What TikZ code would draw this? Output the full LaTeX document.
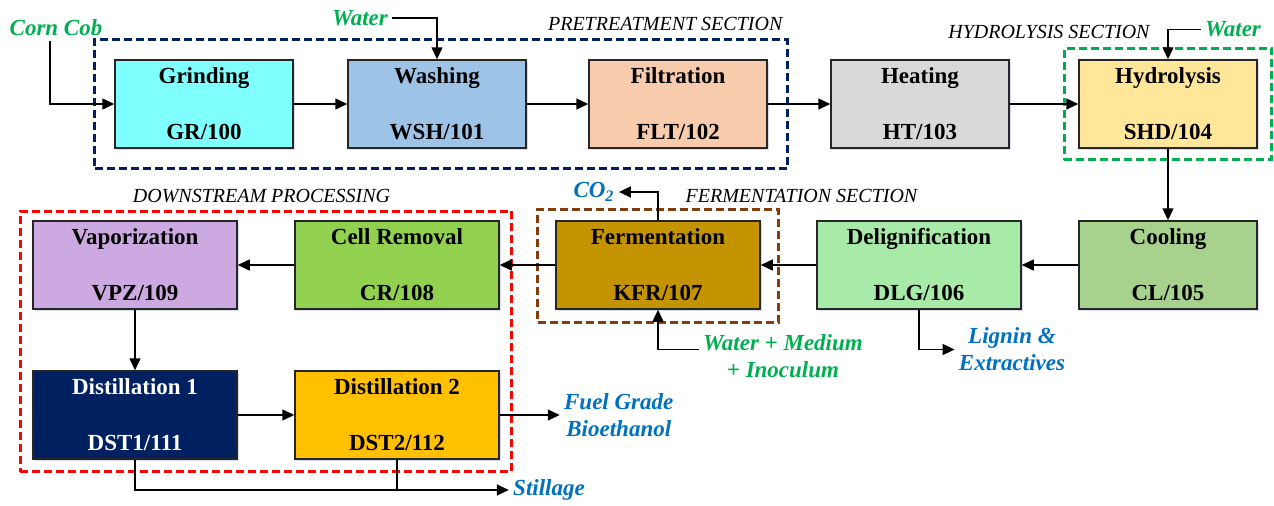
\documentclass[tikz,border=0pt]{standalone}
\usepackage{fontspec}
\setmainfont{Liberation Serif}
\usetikzlibrary{
  positioning,
  arrows.meta,
  fit,
  shadows,
  backgrounds
}

\definecolor{grindCyan}{HTML}{80FFFF}
\definecolor{washBlue}{HTML}{9DC3E6}
\definecolor{filtPeach}{HTML}{F8CBAD}
\definecolor{heatGray}{HTML}{D9D9D9}
\definecolor{hydYellow}{HTML}{FFE699}
\definecolor{coolGreen}{HTML}{A9D18E}
\definecolor{delignGreen}{HTML}{A8EBA8}
\definecolor{fermGold}{HTML}{C39300}
\definecolor{cellGreen}{HTML}{92D050}
\definecolor{vapLilac}{HTML}{CDA9E2}
\definecolor{distNavy}{HTML}{002060}
\definecolor{distAmber}{HTML}{FFC000}
\definecolor{fermBrown}{HTML}{843C0C}
\definecolor{feedGreen}{HTML}{00B050}
\definecolor{productBlue}{HTML}{0070C0}

\begin{document}
\begin{tikzpicture}[
    x=0.5pt,y=-0.5pt,
    unitBox/.style={draw=black!85,line width=0.75pt,minimum width=102pt,minimum height=44pt,
      inner sep=0pt,align=center,font=\fontsize{11.5}{28}\selectfont\bfseries,
      drop shadow={shadow xshift=0.8pt,shadow yshift=-0.8pt,opacity=0.2,fill=blue!40!gray}},
    narrowBox/.style={unitBox,minimum width=89pt},
    flow/.style={-{Triangle[length=6pt,width=5.5pt]},line width=0.75pt},
    sectionBox/.style={draw,line width=1.5pt,dash pattern=on 4pt off 2pt},
    sectionLabel/.style={font=\fontsize{10}{12}\selectfont\itshape,inner sep=0pt},
    feedLabel/.style={font=\fontsize{11.5}{13.5}\selectfont\bfseries\itshape,text=feedGreen,
      align=center,inner sep=2pt},
    productLabel/.style={feedLabel,text=productBlue}
  ]
    \useasboundingbox (0,0) rectangle (1274,505);

    % pretreatment, heating and hydrolysis
    \node[narrowBox,fill=grindCyan] (grinding) at (204,104) {Grinding\\GR/100};
    \node[narrowBox,fill=washBlue,right=26.75pt of grinding] (washing) {Washing\\WSH/101};
    \node[narrowBox,fill=filtPeach,right=30.75pt of washing] (filtration) {Filtration\\FLT/102};
    \node[narrowBox,fill=heatGray,right=31.25pt of filtration] (heating) {Heating\\HT/103};
    \node[narrowBox,fill=hydYellow,right=34.25pt of heating] (hydrolysis) {Hydrolysis\\SHD/104};

    % cooling back to downstream
    \node[narrowBox,fill=coolGreen,below=35.75pt of hydrolysis] (cooling) {Cooling\\CL/105};
    \node[unitBox,fill=delignGreen,left=28.25pt of cooling] (delignification) {Delignification\\DLG/106};
    \node[unitBox,fill=fermGold,left=27.75pt of delignification] (fermentation) {Fermentation\\KFR/107};
    \node[unitBox,fill=cellGreen,left=27.75pt of fermentation] (cellRemoval) {Cell Removal\\CR/108};
    \node[unitBox,fill=vapLilac,left=28.25pt of cellRemoval] (vaporization) {Vaporization\\VPZ/109};
    \node[unitBox,fill=distNavy,text=white,below=30.25pt of vaporization] (distillationA) {Distillation 1\\DST1/111};
    \node[unitBox,fill=distAmber,right=28.25pt of distillationA] (distillationB) {Distillation 2\\DST2/112};

    % sections
    \begin{scope}[on background layer]
      \node[sectionBox,draw=distNavy,fit={(grinding) (filtration)},inner sep=9.75pt] (pretreatment) {};
      \node[sectionBox,draw=feedGreen,fit={(hydrolysis)},inner xsep=7pt,inner ysep=5.5pt] (hydrolysisSec) {};
      \node[sectionBox,draw=fermBrown,fit={(fermentation)},inner xsep=8.75pt,inner ysep=6pt,yshift=-0.5pt] (fermentationSec) {};
      \node[sectionBox,draw=red,fit={(vaporization) (distillationB)},inner xsep=6pt,inner ysep=5.25pt,yshift=-0.75pt] (downstream) {};
    \end{scope}
    \node[sectionLabel,anchor=base east] (pretreatTitle) at ([xshift=-3pt,yshift=4pt]pretreatment.north east) {PRETREATMENT SECTION};
    \node[sectionLabel,anchor=base east] (hydrolysisTitle) at ([xshift=-9pt,yshift=10.5pt]hydrolysis.north) {HYDROLYSIS SECTION};
    \node[sectionLabel,anchor=base west] (fermentTitle) at ([xshift=-47.25pt,yshift=2.5pt]fermentationSec.north east) {FERMENTATION SECTION};
    \node[sectionLabel,anchor=base] (downstreamTitle) at ([xshift=-2.25pt,yshift=3.5pt]downstream.north) {DOWNSTREAM PROCESSING};

    % feeds and products
    \node[feedLabel] (cornCob) at (56,28) {Corn Cob};
    \node[feedLabel] (waterWash) at (360,18) {Water};
    \node[feedLabel] (waterHyd) at (1233,29.5) {Water};
    \node[feedLabel] (medium) at (783,356.5) {Water + Medium\\+ Inoculum};
    \node[productLabel] (carbonDioxide) at (594,192) {CO\textsubscript{2}};
    \node[productLabel] (lignin) at (1012,349.5) {Lignin \&\\Extractives};
    \node[productLabel,right=30pt of distillationB] (ethanol) {Fuel Grade\\Bioethanol};
    \node[productLabel] (stillage) at (549,490) {Stillage};

    % main line
    \foreach \from/\to in {grinding/washing,washing/filtration,filtration/heating,heating/hydrolysis,
      hydrolysis/cooling,cooling/delignification,delignification/fermentation,
      fermentation/cellRemoval,cellRemoval/vaporization,vaporization/distillationA,
      distillationA/distillationB}
      \draw[flow] (\from) -- (\to);

    % side streams
    \draw[flow] ([xshift=-3pt]cornCob.south) |- (grinding);
    \draw[flow] (waterWash) -| (washing);
    \draw[flow] (waterHyd) -| (hydrolysis);
    \draw[flow] (fermentation) |- (carbonDioxide);
    \draw[flow] ([yshift=3.5pt]medium.west) -| (fermentation);
    \draw[flow] (delignification) |- (lignin);
    \draw[flow] (distillationB) -- (ethanol);
    \draw[flow] (distillationA) |- (stillage);
    \draw[line width=0.75pt] (distillationB) -- (distillationB |- stillage);
\end{tikzpicture}
\end{document}
